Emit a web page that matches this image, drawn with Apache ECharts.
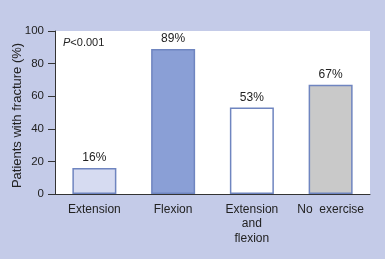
<!DOCTYPE html>
<html>
<head>
<meta charset="utf-8">
<script src="https://cdn.jsdelivr.net/npm/echarts@6/dist/echarts.min.js"></script>
<style>
html,body{margin:0;padding:0;background:#c4cbe8;}
#c{width:385px;height:259px;}
</style>
</head>
<body>
<div id="c"></div>
<script>
const categories = ['Extension', 'Flexion', 'Extension\nand\nflexion', 'No  exercise'];
const values = [16, 89, 53, 67];
const labels = ['16%', '89%', '53%', '67%'];
const yTicks = [0, 20, 40, 60, 80, 100];
const fills = ['#d6dbf1', '#8a9fd6', '#ffffff', '#c9c9c9'];

const chart = echarts.init(document.getElementById('c'), null, {renderer: 'canvas'});
const font = 'Liberation Sans, Arial, sans-serif';
chart.setOption({
  backgroundColor: '#c4cbe8',
  animation: false,
  textStyle: {fontFamily: font},
  grid: {left: 55, right: 15, top: 31, bottom: 65, show: true, backgroundColor: '#ffffff', borderWidth: 0,
    containLabel: false, outerBoundsMode: 'none'},
  xAxis: {
    type: 'category',
    data: categories,
    axisLine: {lineStyle: {color: '#333', width: 1}},
    axisTick: {show: false},
    axisLabel: {color: '#222', fontSize: 12, fontFamily: font, margin: 8, lineHeight: 14.5, interval: 0}
  },
  yAxis: {
    type: 'value',
    min: 0, max: 100, interval: 20,
    name: 'Patients with fracture (%)',
    nameLocation: 'middle',
    nameGap: 31,
    nameMoveOverlap: false,
    nameTextStyle: {color: '#222', fontSize: 13, fontFamily: font, padding: [0, 6, 0, 0]},
    axisLine: {show: true, lineStyle: {color: '#333', width: 1}},
    axisTick: {show: true, length: 7, lineStyle: {color: '#333'}},
    axisLabel: {color: '#222', fontSize: 11.5, fontFamily: font, margin: 11,
      formatter: v => yTicks.includes(v) ? String(v) : ''},
    splitLine: {show: false}
  },
  graphic: [{
    type: 'text', left: 63, top: 37,
    style: {
      text: '{i|P}<0.001',
      rich: {i: {fontStyle: 'italic', fontSize: 11, fontFamily: font, fill: '#222'}},
      fontSize: 11, fontFamily: font, fill: '#222'
    }
  }],
  series: [{
    type: 'bar',
    data: values.map((v, i) => ({value: v, itemStyle: {color: fills[i]}})),
    barWidth: 44,
    itemStyle: {borderColor: '#6f85c0', borderWidth: 1.5},
    label: {show: true, position: 'top', distance: 4, color: '#222', fontSize: 12, fontFamily: font,
      formatter: p => labels[p.dataIndex]}
  }]
});
</script>
</body>
</html>
